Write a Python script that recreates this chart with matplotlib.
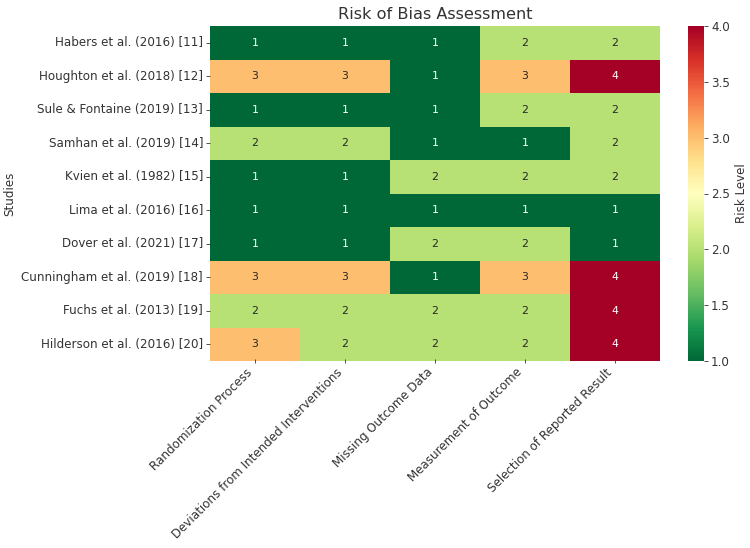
import matplotlib
matplotlib.use("Agg")
import matplotlib.pyplot as plt
import seaborn as sns
import numpy as np
import pandas as pd

studies = [
    "Habers et al. (2016) [11]",
    "Houghton et al. (2018) [12]",
    "Sule & Fontaine (2019) [13]",
    "Samhan et al. (2019) [14]",
    "Kvien et al. (1982) [15]",
    "Lima et al. (2016) [16]",
    "Dover et al. (2021) [17]",
    "Cunningham et al. (2019) [18]",
    "Fuchs et al. (2013) [19]",
    "Hilderson et al. (2016) [20]",
]
domains = [
    "Randomization Process",
    "Deviations from Intended Interventions",
    "Missing Outcome Data",
    "Measurement of Outcome",
    "Selection of Reported Result",
]
randomization = [1, 3, 1, 2, 1, 1, 1, 3, 2, 3]
deviations = [1, 3, 1, 2, 1, 1, 1, 3, 2, 2]
missing = [1, 1, 1, 1, 2, 1, 2, 1, 2, 2]
measurement = [2, 3, 2, 1, 2, 1, 2, 3, 2, 2]
selection = [2, 4, 2, 2, 2, 1, 1, 4, 4, 4]

df = pd.DataFrame(
    {domains[0]: randomization, domains[1]: deviations, domains[2]: missing,
     domains[3]: measurement, domains[4]: selection},
    index=studies,
)

txt = "#333333"
plt.rcParams["text.color"] = txt
plt.rcParams["axes.labelcolor"] = txt
plt.rcParams["xtick.color"] = txt
plt.rcParams["ytick.color"] = txt

fig = plt.figure(figsize=(7.5, 5.48), dpi=100)
ax = fig.add_axes([210 / 750, 1 - 361 / 548, 450 / 750, 335 / 548])
cax = fig.add_axes([688 / 750, 1 - 361 / 548, 16 / 750, 335 / 548])

sns.heatmap(df, ax=ax, cbar_ax=cax, cmap="RdYlGn_r", vmin=1, vmax=4,
            annot=True, fmt="d", annot_kws={"size": 7.8},
            cbar_kws={"label": "Risk Level"})

ax.set_title("Risk of Bias Assessment", fontsize=11.6, color=txt, pad=5)
ax.set_ylabel("Studies", fontsize=8.6, labelpad=4)
ax.set_xlabel("")
ax.set_xticklabels(domains, rotation=45, ha="right", rotation_mode="default", fontsize=8.6)
ax.set_yticklabels(studies, rotation=0, fontsize=8.6)
ax.tick_params(axis="y", length=3, width=0.6, pad=2)
ax.tick_params(axis="x", length=3, width=0.6, pad=2, direction="inout")
cax.tick_params(labelsize=8.6, length=3, width=0.6, pad=2)
cax.set_ylabel("Risk Level", fontsize=8.6, labelpad=4)

fig.savefig("out.png", dpi=100)
